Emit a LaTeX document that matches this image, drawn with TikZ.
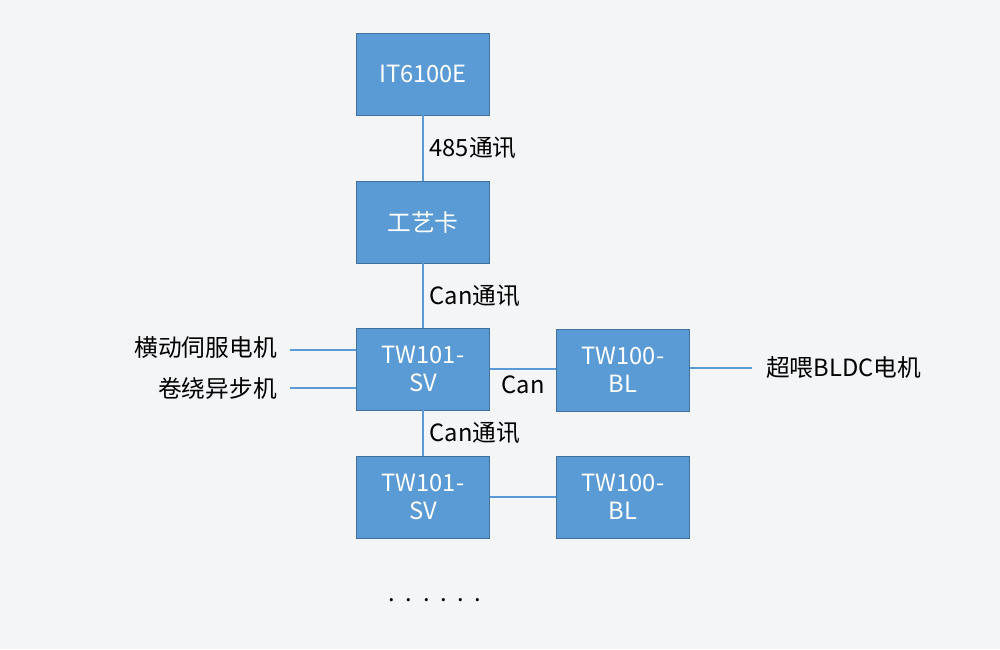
\documentclass[tikz,border=0pt]{standalone}
\usepackage{fontspec}
\setmainfont{Noto Sans CJK SC}
\usetikzlibrary{positioning}
\definecolor{boxfill}{HTML}{5B9BD5}
\definecolor{boxline}{HTML}{41719C}
\definecolor{bgcol}{HTML}{F4F5F7}
\begin{document}
\begin{tikzpicture}[x=0.02cm, y=-0.02cm, font=\fontsize{13.5pt}{16pt}\selectfont, box/.style = {draw=boxline, fill=boxfill, text=white, minimum width=2.66cm, minimum height=1.64cm, align=center, inner sep=2pt}, link/.style = {draw=boxfill, thick}]
\fill[bgcol] (0,0) rectangle (1000,649);
\useasboundingbox (0,0) rectangle (1000,649);
\node[box] (it) at (423,74) {IT6100E};
\node[box] (card) at (423,222) {工艺卡};
\node[box] (sv1) at (423,369) {TW101-\\SV};
\node[box] (bl1) at (623,370) {TW100-\\BL};
\node[box] (sv2) at (423,497) {TW101-\\SV};
\node[box] (bl2) at (623,497) {TW100-\\BL};

\coordinate (m1) at (290,350);
\coordinate (m2) at (290,388);
\coordinate (m3) at (752,368);
\node[anchor=east] (t1) at (283,348) {横动伺服电机};
\node[anchor=east] (t2) at (283,388) {卷绕异步机};
\node[anchor=west] (t3) at (760,368) {超喂BLDC电机};

\path[link] (it) -- node[right, text=black]{485通讯} (card);
\path[link] (card) -- node[right, text=black]{Can通讯} (sv1);
\path[link] (sv1) -- node[right, text=black]{Can通讯} (sv2);
\path[link] (sv1.east |- 0,369) -- node[below, text=black]{Can} (bl1.west |- 0,369);
\path[link] (sv2) -- (bl2);
\path[link] (m1) -- (sv1.west |- m1);
\path[link] (m2) -- (sv1.west |- m2);
\path[link] (bl1.east |- m3) -- (m3);
\node (dots) at (435,600) {.\ \ .\ \ .\ \ .\ \ .\ \ .};
\end{tikzpicture}
\end{document}
